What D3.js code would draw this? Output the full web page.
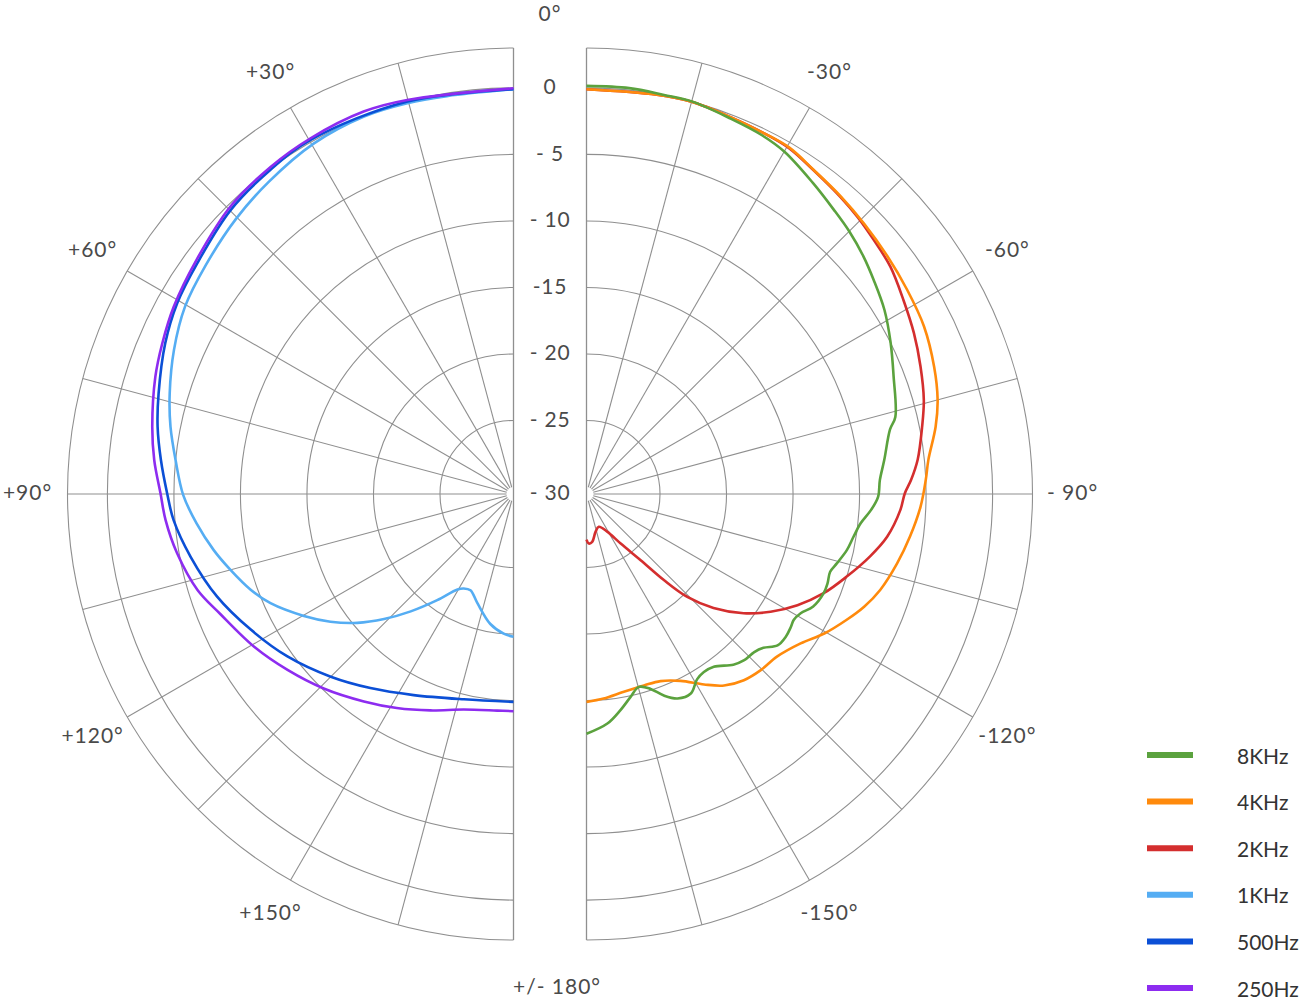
<!DOCTYPE html>
<html>
<head>
<meta charset="utf-8">
<script src="https://cdn.jsdelivr.net/npm/d3@7"></script>
<style>
  html, body { margin: 0; padding: 0; background: #ffffff; }
  svg { display: block; }
  text { font-family: "Lato", "Open Sans", sans-serif; }
</style>
</head>
<body>
<svg id="chart" width="1313" height="1000"></svg>
<script>
// ---------------- DATA ----------------
// angle in degrees (positive = left half, negative = right half), level in dB
const ringLevels = [0, -5, -10, -15, -20, -25, -30];
const ringLabels = ["0", "- 5", "- 10", "-15", "- 20", "- 25", "- 30"];
const leftAngleTicks = [30, 60, 90, 120, 150];
const leftAngleLabels = ["+30°", "+60°", "+90°", "+120°", "+150°"];
const rightAngleTicks = [-30, -60, -90, -120, -150];
const rightAngleLabels = ["-30°", "-60°", "- 90°", "-120°", "-150°"];
const topLabel = "0°";
const bottomLabel = "+/- 180°";

const seriesNames = ["8KHz", "4KHz", "2KHz", "1KHz", "500Hz", "250Hz"];
const seriesColors = ["#5ba23e", "#ff8a0c", "#d42e2e", "#55adf3", "#0b4fd6", "#8d2cf0"];

const data8k = [
  [0, 0.15], [-6, 0.15], [-11, 0.03], [-15, 0.03], [-21, -0.3], [-26, -0.5], [-30, -0.8],
  [-36, -1.6], [-41, -2.2], [-45, -2.6], [-49.4, -3.1], [-53.3, -3.6], [-58.3, -4.2],
  [-63.6, -5.0], [-69, -5.8], [-76, -6.6], [-78, -7.2], [-83.5, -8.0], [-87.3, -8.45],
  [-90.5, -8.6], [-93.2, -9.1], [-96.1, -9.8], [-99.1, -10.2], [-102.1, -10.5], [-105.5, -11.0],
  [-107.7, -11.3], [-110.4, -11.2], [-112.7, -11.2], [-116.4, -11.5], [-119.1, -12.1],
  [-121.3, -12.3], [-123, -12.2], [-125.6, -12.1], [-128.4, -12.2], [-131, -12.9],
  [-133.3, -13.2], [-136.5, -13.3], [-139.3, -13.6], [-143.6, -14.4], [-146.6, -14.5],
  [-149.2, -14.3], [-152.4, -13.6], [-156, -13.7], [-159, -14.3], [-161.8, -15.1],
  [-164.8, -15.5], [-167.8, -14.9], [-171, -14.1], [-174.8, -13.2], [-180, -12.5]
];
const data4k = [
  [0, -0.1], [-10, -0.05], [-15, 0.0], [-21, -0.2], [-26, -0.3], [-30.3, -0.35], [-35, -0.77],
  [-40.5, -1.1], [-45.7, -1.4], [-51.7, -1.7], [-57.5, -1.95], [-63.6, -2.2], [-69.9, -2.7],
  [-75, -3.2], [-79.1, -3.8], [-84.3, -4.7], [-87.6, -5.0], [-92.2, -5.4], [-97.5, -6.0],
  [-102.6, -6.6], [-108.1, -7.3], [-112.1, -8.0], [-115.8, -8.8], [-120.4, -9.8],
  [-124.9, -10.9], [-130.5, -11.7], [-135.3, -11.9], [-139.8, -12.2], [-144.3, -12.8],
  [-148.3, -13.7], [-153.3, -14.8], [-158.4, -15.4], [-163.3, -15.5], [-169.3, -15.4],
  [-175.2, -15.1], [-180, -14.9]
];
const data2k = [
  [0, -0.1], [-10, -0.05], [-15, 0.0], [-21, -0.2], [-26, -0.3], [-30.3, -0.4], [-35, -0.8],
  [-40.5, -1.15], [-44.5, -1.4], [-48.5, -1.7], [-53.2, -2.0], [-58.6, -2.6], [-63.8, -3.1],
  [-69.1, -3.65], [-74.4, -4.2], [-78.7, -4.8], [-84.1, -5.5], [-87.5, -6.1], [-89.9, -6.6],
  [-92.9, -6.9], [-98.1, -7.7], [-102.4, -8.7], [-107.6, -10.0], [-112.7, -11.2],
  [-117.8, -12.6], [-122.6, -14.1], [-127.2, -15.7], [-131.9, -17.7], [-135.6, -19.7],
  [-138, -21.8], [-140.7, -24.1], [-145.4, -26.0], [-151.2, -27.3], [-159.4, -27.9],
  [-166.6, -27.6], [-173.2, -26.9], [-177.3, -26.8], [-180, -27.1]
];
const data1k = [
  [0, -0.1], [9.5, -0.2], [15.2, -0.08], [21.6, 0.0], [29.7, -0.2], [38, -0.7], [45.2, -1.15],
  [53.4, -1.7], [60.3, -2.1], [67, -2.8], [73.7, -3.6], [78.9, -4.25], [84.3, -5.0],
  [90.2, -5.7], [95.3, -6.6], [100.6, -7.6], [105, -8.5], [110, -9.5], [114.2, -10.5],
  [120.2, -12.3], [124.9, -13.75], [129.5, -15.3], [134, -17.0], [138.8, -18.8],
  [144.3, -20.7], [149.6, -22.2], [152.2, -22.5], [155.9, -22.6], [161.6, -21.9],
  [169.9, -20.6], [176, -20.0], [180, -19.8]
];
const data500 = [
  [0, -0.1], [15.1, 0.04], [29.8, 0.15], [36.9, -0.07], [44.9, -0.4], [53.9, -1.1],
  [60.4, -1.46], [66.6, -2.0], [74.2, -2.8], [79.3, -3.3], [84.5, -3.9], [90, -4.5],
  [94.4, -4.9], [101, -5.8], [109.1, -6.95], [117.3, -8.3], [125.7, -9.6], [135, -11.1],
  [143.6, -12.4], [153.6, -13.65], [166.4, -14.65], [180, -14.9]
];
const data250 = [
  [0, -0.03], [15.1, 0.15], [21.4, 0.35], [29.7, 0.26], [36.6, 0.1], [44.6, -0.2],
  [53.5, -0.9], [61.1, -1.36], [66.8, -1.8], [71.9, -2.2], [79.4, -2.9], [84.6, -3.4],
  [90, -4.0], [94.3, -4.3], [100, -4.85], [106.9, -5.7], [112.2, -6.7], [120.5, -7.9],
  [127.9, -9.0], [135.7, -10.1], [144.2, -11.3], [151.4, -12.2], [159, -13.1],
  [167, -13.9], [175.7, -14.2], [180, -14.2]
];
const seriesData = [data8k, data4k, data2k, data1k, data500, data250];

// ---------------- LAYOUT ----------------
const svg = d3.select("#chart");
const cy = 494;
const cxL = 513.5, cxR = 586.5;
const rScale = d3.scaleLinear().domain([-30, 3]).range([7, 446]);
const outerR = rScale(3);
const innerR = rScale(-30);
const gridColor = "#8f8f8f";
const textColor = "#4a4a4a";
const toRad = d => -d * Math.PI / 180; // positive degrees go counter-clockwise (left half)

function drawHalf(cx, sign) {
  const g = svg.append("g").attr("transform", `translate(${cx},${cy})`);
  const ringList = ringLevels.filter(v => v > -30).concat([3]);
  g.selectAll("path.ring").data(ringList).enter().append("path")
    .attr("class", "ring")
    .attr("d", v => d3.arc().innerRadius(rScale(v)).outerRadius(rScale(v))
      .startAngle(0).endAngle(sign * Math.PI)())
    .attr("fill", "none").attr("stroke", gridColor).attr("stroke-width", 1.1);
  const spokes = d3.range(15, 180, 15);
  g.selectAll("line.spoke").data(spokes).enter().append("line")
    .attr("x1", a => sign * innerR * Math.sin(a * Math.PI / 180))
    .attr("y1", a => -innerR * Math.cos(a * Math.PI / 180))
    .attr("x2", a => sign * outerR * Math.sin(a * Math.PI / 180))
    .attr("y2", a => -outerR * Math.cos(a * Math.PI / 180))
    .attr("stroke", gridColor).attr("stroke-width", 1.1);
  g.append("line").attr("x1", 0).attr("x2", 0).attr("y1", -outerR).attr("y2", outerR)
    .attr("stroke", gridColor).attr("stroke-width", 1.3);
  return g;
}
const gL = drawHalf(cxL, -1);
const gR = drawHalf(cxR, 1);

const radial = d3.lineRadial()
  .angle(d => toRad(d[0]))
  .radius(d => rScale(d[1]))
  .curve(d3.curveCatmullRom.alpha(0.5));

const order = [3, 4, 5, 2, 1, 0];
order.forEach(i => {
  const isLeft = seriesData[i][seriesData[i].length - 1][0] > 0;
  const g = isLeft ? gL : gR;
  g.append("path").datum(seriesData[i])
    .attr("d", radial)
    .attr("fill", "none")
    .attr("stroke", seriesColors[i])
    .attr("stroke-width", 2.6)
    .attr("stroke-linejoin", "round");
});

const fs = 21;
const midX = (cxL + cxR) / 2;
svg.selectAll("text.ringlab").data(ringLevels).enter().append("text")
  .attr("x", midX)
  .attr("y", (v) => v === -30 ? cy - 3 : cy - rScale(v) - 2)
  .attr("text-anchor", "middle").attr("dominant-baseline", "central")
  .attr("font-size", fs).attr("letter-spacing", 0.8).attr("fill", textColor)
  .text((v, i) => ringLabels[i]);

const labR = 486;
svg.selectAll("text.alabL").data(leftAngleTicks).enter().append("text")
  .attr("x", a => cxL - labR * Math.sin(a * Math.PI / 180))
  .attr("y", a => cy - labR * Math.cos(a * Math.PI / 180) - 3)
  .attr("text-anchor", "middle").attr("dominant-baseline", "central")
  .attr("font-size", fs).attr("letter-spacing", 1).attr("fill", textColor)
  .text((a, i) => leftAngleLabels[i]);
svg.selectAll("text.alabR").data(rightAngleTicks).enter().append("text")
  .attr("x", a => cxR + labR * Math.sin(-a * Math.PI / 180))
  .attr("y", a => cy - labR * Math.cos(-a * Math.PI / 180) - 3)
  .attr("text-anchor", "middle").attr("dominant-baseline", "central")
  .attr("font-size", fs).attr("letter-spacing", 1).attr("fill", textColor)
  .text((a, i) => rightAngleLabels[i]);
svg.append("text").attr("x", midX).attr("y", 12)
  .attr("text-anchor", "middle").attr("dominant-baseline", "central")
  .attr("font-size", fs).attr("letter-spacing", 1).attr("fill", textColor).text(topLabel);
svg.append("text").attr("x", 557).attr("y", 985)
  .attr("text-anchor", "middle").attr("dominant-baseline", "central")
  .attr("font-size", fs).attr("letter-spacing", 1).attr("fill", textColor).text(bottomLabel);

const legY = d3.scalePoint().domain(seriesNames).range([755, 988]);
const leg = svg.append("g");
seriesNames.forEach((n, i) => {
  leg.append("line").attr("x1", 1147).attr("x2", 1193)
    .attr("y1", legY(n)).attr("y2", legY(n))
    .attr("stroke", seriesColors[i]).attr("stroke-width", 6);
  leg.append("text").attr("x", 1237).attr("y", legY(n))
    .attr("dominant-baseline", "central")
    .attr("font-size", 21).attr("fill", "#333").text(n);
});
</script>
</body>
</html>
